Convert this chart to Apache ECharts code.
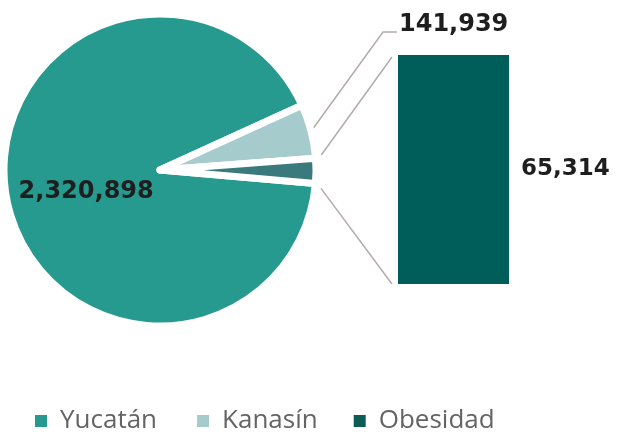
<!DOCTYPE html>
<html><head><meta charset="utf-8">
<script src="https://cdn.jsdelivr.net/npm/echarts@6/dist/echarts.min.js"></script>
<style>html,body{margin:0;padding:0;background:#fff}#c{width:623px;height:435px}</style>
</head><body><div id="c"></div>
<script>
// ---- data ----
const categories = ['Yucatán', 'Kanasín', 'Obesidad'];
const values = [2320898, 141939, 65314];
const barCategories = ['Obesidad'];
const barValues = [65314];

// ---- style ----
const pieColors = ['#269a8e', '#a5cbcc', '#3b7a7c'];
const barColor = '#005e5a';
const legendColors = ['#269a8e', '#a5cbcc', '#0b5d56'];
const FONT = 'DejaVu Sans';
const LFONT = 'Open Sans';
const CX = 160, CY = 170, R = 156, START = 355;
const LABEL_K = [399, 25];
const fmt = v => String(v).replace(/\B(?=(\d{3})+(?!\d))/g, ',');

const chart = echarts.init(document.getElementById('c'), null, {renderer: 'canvas'});
const option = {
  animation: false,
  backgroundColor: '#fff',
  legend: {
    left: 35, top: 406, padding: 0,
    itemWidth: 12, itemHeight: 12, itemGap: 36,
    icon: 'rect',
    itemStyle: {borderWidth: 0, borderColor: 'transparent'},
    data: categories.map((n, i) => ({
      name: n,
      itemStyle: {color: legendColors[i], borderWidth: 0, borderColor: 'transparent'},
      textStyle: i === 0 ? {padding: [0, 4, 0, 8]} : undefined
    })),
    textStyle: {fontFamily: LFONT, fontSize: 26, color: '#646464', padding: [0, 0, 0, 8], lineHeight: 30},
    selectedMode: false
  },
  grid: {left: 398, top: 55, width: 111, height: 229},
  xAxis: {type: 'category', data: barCategories, show: false},
  yAxis: {type: 'value', min: 0, max: barValues[0], show: false},
  series: [
    {
      type: 'pie', silent: true,
      center: [CX, CY], radius: R, startAngle: START, clockwise: true,
      avoidLabelOverlap: false,
      itemStyle: {borderColor: '#fff', borderWidth: 7},
      label: {show: true, position: 'inside', formatter: p => fmt(p.value),
        fontFamily: FONT, fontWeight: 'bold', fontSize: 24, color: '#1e1e1e'},
      labelLine: {show: false},
      labelLayout: function (p) {
        if (p.dataIndex === 1) return {x: LABEL_K[0], y: LABEL_K[1], align: 'left', verticalAlign: 'middle'};
        if (p.dataIndex === 0) return {dx: 3, dy: 4};
      },
      emphasis: {disabled: true},
      data: categories.map((n, i) => ({
        name: n, value: values[i], itemStyle: {color: pieColors[i]},
        label: i === 2 ? {show: false} : undefined
      }))
    },
    {
      type: 'bar', name: 'bar', silent: true,
      data: barValues, barWidth: '100%',
      itemStyle: {color: barColor},
      label: {show: true, position: 'right', distance: 12, formatter: p => fmt(p.value),
        fontFamily: FONT, fontWeight: 'bold', fontSize: 23, color: '#1e1e1e'}
    }
  ]
};
chart.setOption(option);

// connector lines computed from the data-driven geometry
const total = values.reduce((a, b) => a + b, 0);
const ang = []; let a = START;
values.forEach(v => { const a1 = a - v / total * 360; ang.push([a, a1]); a = a1; });
const pt = (deg, r) => [CX + r * Math.cos(deg * Math.PI / 180), CY - r * Math.sin(deg * Math.PI / 180)];
const barTop = chart.convertToPixel({gridIndex: 0}, [0, barValues[0]]);
const barBot = chart.convertToPixel({gridIndex: 0}, [0, 0]);
const barLeft = barTop[0] - 111 / 2;
const lineStyle = {stroke: '#b3abab', lineWidth: 1.5, fill: null};
const kMid = (ang[1][0] + ang[1][1]) / 2;
const pK = pt(kMid, R);
const pTop = pt(ang[2][0] + 1, R + 6);
const pBot = pt(ang[2][1] - 1.5, R + 6);
chart.setOption({
  graphic: [
    {type: 'polyline', silent: true, shape: {points: [pK, [LABEL_K[0] - 16, LABEL_K[1] + 7], [LABEL_K[0] - 2, LABEL_K[1] + 7]]}, style: lineStyle},
    {type: 'line', silent: true, shape: {x1: pTop[0], y1: pTop[1], x2: barLeft - 6, y2: barTop[1] + 2}, style: lineStyle},
    {type: 'line', silent: true, shape: {x1: pBot[0], y1: pBot[1], x2: barLeft - 6, y2: barBot[1]}, style: lineStyle}
  ]
});
</script></body></html>
